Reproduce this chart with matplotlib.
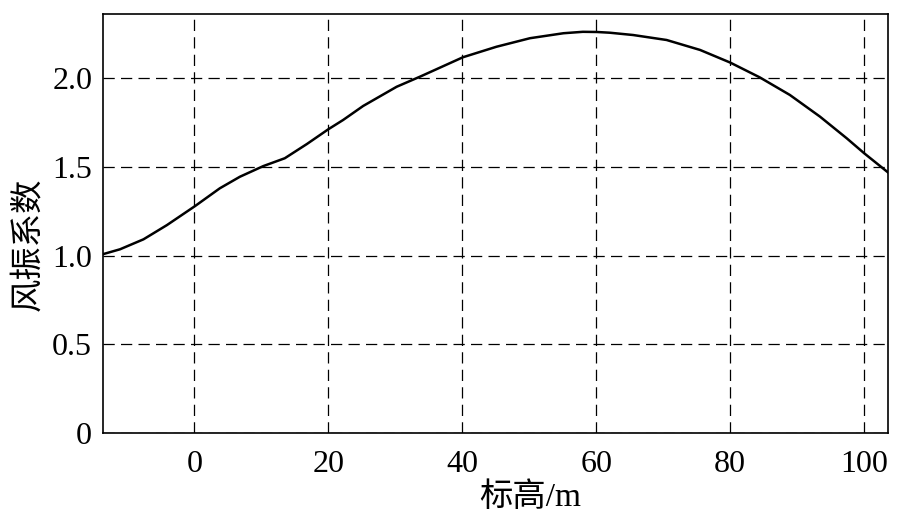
import matplotlib
matplotlib.use("Agg")
import matplotlib.pyplot as plt

# elevation (m) vs wind vibration coefficient
height = [-13.6, -11.1, -7.6, -4.1, 0.1, 3.8, 6.8, 10.3, 13.5, 16.8,
          20.0, 22.2, 25.2, 30.2, 33.7, 40.1, 45.1, 50.1, 55.1, 58.0,
          60.1, 62.0, 65.5, 70.5, 75.5, 80.0, 84.4, 88.9, 93.4, 97.4,
          100.0, 103.6]
coef = [1.008, 1.035, 1.091, 1.171, 1.278, 1.378, 1.443, 1.503, 1.547, 1.627,
        1.710, 1.762, 1.841, 1.949, 2.006, 2.115, 2.174, 2.222, 2.250, 2.258,
        2.257, 2.253, 2.240, 2.212, 2.156, 2.085, 2.002, 1.903, 1.781, 1.659,
        1.575, 1.466]

xticks = [0, 20, 40, 60, 80, 100]
yticks = [0, 0.5, 1.0, 1.5, 2.0]
ytick_labels = ["0", "0.5", "1.0", "1.5", "2.0"]

fams = ["Liberation Serif", "Noto Sans CJK SC"]
plt.rcParams["font.family"] = fams

fig = plt.figure(figsize=(9.23, 5.26), dpi=100)
ax = fig.add_axes([0.1119, 0.1762, 0.8505, 0.7978])
ax.plot(height, coef, color="black", lw=1.8)
ax.set_xlim(-13.6, 103.6)
ax.set_ylim(0, 2.36)
ax.set_xticks(xticks)
ax.set_yticks(yticks)
ax.set_yticklabels(ytick_labels)
ax.tick_params(length=0, labelsize=23, pad=8)
ax.tick_params(axis="x", pad=12)
ax.grid(True, color="black", lw=0.9, linestyle=(0, (9, 5)))
for s in ax.spines.values():
    s.set_linewidth(1.2)
ax.set_xlabel("标高/m", fontsize=24)
ax.xaxis.set_label_coords(0.5436, -0.117)
ax.set_ylabel("风振系数", fontsize=24)
ax.yaxis.set_label_coords(-0.075, 0.45)
fig.savefig("out.png", dpi=100)
